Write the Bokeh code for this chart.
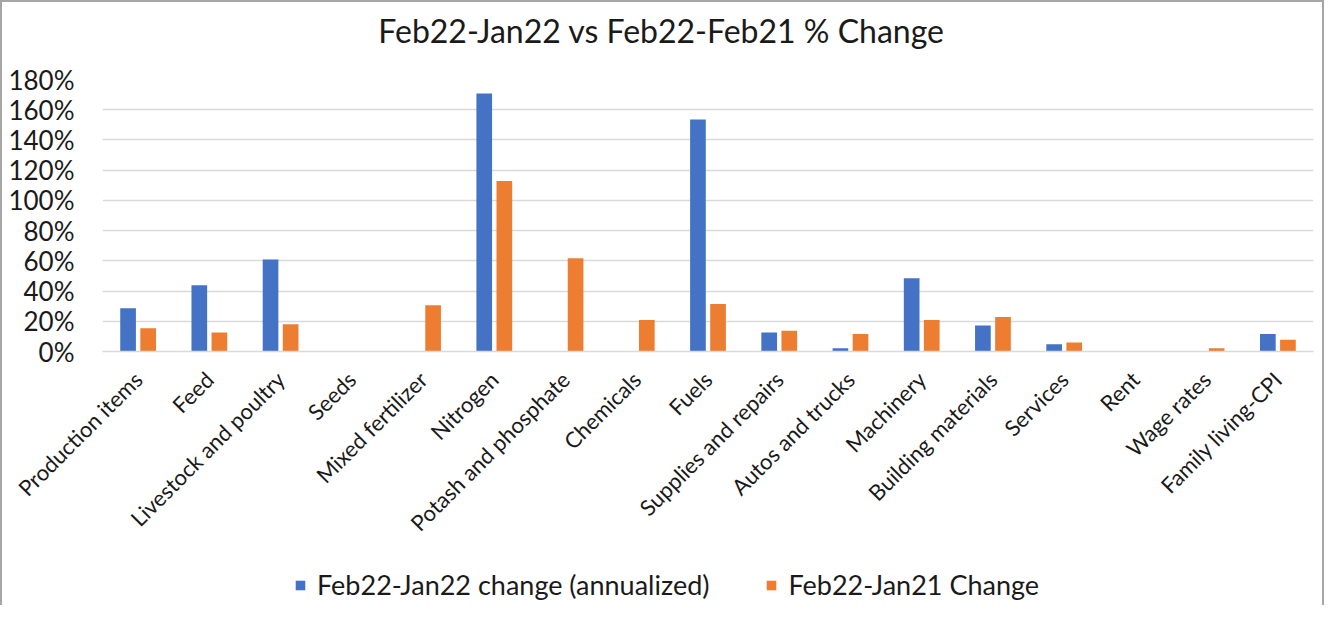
import math
from bokeh.plotting import figure
from bokeh.layouts import column
from bokeh.models import (ColumnDataSource, FactorRange, Range1d, NumeralTickFormatter,
                          Legend, LegendItem, FixedTicker, Label)
from bokeh.transform import dodge
from bokeh.embed import file_html
from bokeh.resources import INLINE

categories = ["Production items", "Feed", "Livestock and poultry", "Seeds", "Mixed fertilizer",
              "Nitrogen", "Potash and phosphate", "Chemicals", "Fuels", "Supplies and repairs",
              "Autos and trucks", "Machinery", "Building materials", "Services", "Rent",
              "Wage rates", "Family living-CPI"]
jan22_annualized = [0.286, 0.438, 0.608, 0.0, 0.0, 1.707, 0.0, 0.0, 1.535, 0.126, 0.022,
                    0.485, 0.172, 0.048, 0.0, 0.0, 0.115]
jan21_change = [0.154, 0.126, 0.181, 0.0, 0.306, 1.128, 0.617, 0.209, 0.315, 0.137, 0.115,
                0.209, 0.229, 0.059, 0.0, 0.022, 0.077]
y_ticks = [0.0, 0.2, 0.4, 0.6, 0.8, 1.0, 1.2, 1.4, 1.6, 1.8]
series_names = ["Feb22-Jan22 change (annualized)", "Feb22-Jan21 Change"]
title_text = "Feb22-Jan22 vs Feb22-Feb21 % Change"

BLUE = "#4472C4"
ORANGE = "#ED7D31"
GRID = "#d9d9d9"
FONT = "Lato"
TXT = "#1a1a1a"
BORDER = "2px solid #a6a6a6"
W = 1324


def blank(height, styles):
    f = figure(width=W, height=height, output_backend="svg", toolbar_location=None,
               x_range=Range1d(0, 1), y_range=Range1d(0, 1),
               x_axis_location=None, y_axis_location=None, min_border=0)
    f.grid.visible = False
    f.outline_line_color = None
    f.styles = styles
    return f


# --- title strip (frame is aligned with the chart frame by the column layout) ---
t = blank(60, {"border-top": BORDER, "border-left": BORDER, "border-right": BORDER})
t.add_layout(Label(x=559, y=32, x_units="screen", y_units="screen", text=title_text,
                   text_align="center", text_baseline="middle", text_font=FONT,
                   text_font_size="32px", text_color=TXT))

# --- main chart ---
src = ColumnDataSource(dict(cat=categories, a=jan22_annualized, b=jan21_change))
p = figure(x_range=FactorRange(*categories, range_padding=0), y_range=Range1d(0, 1.8),
           width=W, height=500, output_backend="svg", toolbar_location=None,
           min_border_left=100, min_border_right=13, min_border_top=19, min_border_bottom=209)
p.styles = {"border-left": BORDER, "border-right": BORDER}
p.outline_line_color = None

r1 = p.vbar(x=dodge("cat", -0.141, range=p.x_range), top="a", width=0.22, source=src,
            fill_color=BLUE, line_color=None)
r2 = p.vbar(x=dodge("cat", 0.141, range=p.x_range), top="b", width=0.22, source=src,
            fill_color=ORANGE, line_color=None)

p.xgrid.grid_line_color = None
p.ygrid.grid_line_color = GRID
p.ygrid.grid_line_width = 1.5
p.yaxis.ticker = FixedTicker(ticks=y_ticks)
p.yaxis.formatter = NumeralTickFormatter(format="0%")
p.yaxis.axis_line_color = None
p.yaxis.major_tick_line_color = None
p.yaxis.minor_tick_line_color = None
p.yaxis.major_tick_out = 0
p.yaxis.major_label_standoff = 28
p.yaxis.major_label_text_font = FONT
p.yaxis.major_label_text_font_size = "26px"
p.yaxis.major_label_text_color = TXT

p.xaxis.axis_line_color = GRID
p.xaxis.axis_line_width = 1.5
p.xaxis.major_tick_line_color = None
p.xaxis.major_tick_out = 0
p.xaxis.major_label_orientation = math.pi / 4
p.xaxis.major_label_standoff = 24
p.xaxis.major_label_text_font = FONT
p.xaxis.major_label_text_font_size = "22px"
p.xaxis.major_label_text_color = TXT

# --- legend strip (zero-size swatch renderers, only used for the legend glyphs) ---
q = blank(45, {"border-left": BORDER, "border-right": BORDER})
k1 = q.vbar(x=[0.5], top=[0], bottom=[0], width=0, fill_color=BLUE, line_color=None)
k2 = q.vbar(x=[0.5], top=[0], bottom=[0], width=0, fill_color=ORANGE, line_color=None)
legend = Legend(items=[LegendItem(label=series_names[0], renderers=[k1]),
                       LegendItem(label=series_names[1], renderers=[k2])],
                orientation="horizontal", location=(192, 4),
                glyph_width=12, glyph_height=12, label_standoff=11, spacing=56,
                padding=0, margin=0, border_line_color=None, background_fill_alpha=0,
                label_text_font=FONT, label_text_font_size="27px",
                label_text_color=TXT)
q.add_layout(legend)

layout = column(t, p, q, spacing=0)
open("out.html", "w").write(file_html(layout, INLINE))
